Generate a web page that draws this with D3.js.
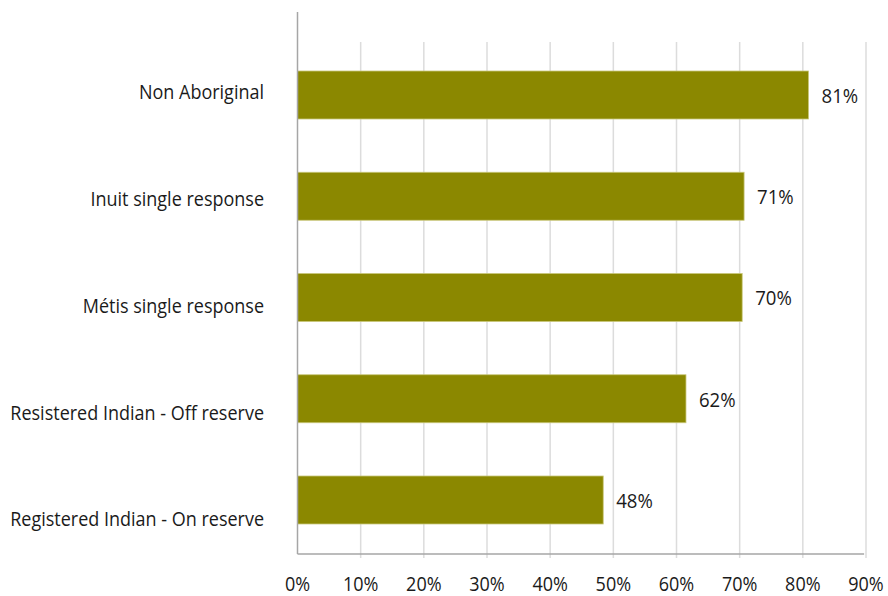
<!DOCTYPE html>
<html><head><meta charset="utf-8">
<script src="https://cdn.jsdelivr.net/npm/d3@7"></script>
<style>body{margin:0;background:#fff}svg{display:block}</style>
</head><body>
<script>
const categories = ["Non Aboriginal","Inuit single response","Métis single response","Resistered Indian - Off reserve","Registered Indian - On reserve"];
const values = [80.9, 70.7, 70.4, 61.5, 48.4];
const ticks = [0,10,20,30,40,50,60,70,80,90];

const W = 888, H = 596;
const svg = d3.select("body").append("svg").attr("width", W).attr("height", H);
const font = "'Open Sans', sans-serif";

const x = d3.scaleLinear().domain([0, 90]).range([297.5, 866]);
const y = d3.scalePoint().domain(categories).range([95, 500]);
const yLab = d3.scalePoint().domain(categories).range([94, 521]);
const barH = 48;

// gridlines
svg.append("g").selectAll("line").data(ticks.slice(1)).join("line")
  .attr("x1", d => x(d)).attr("x2", d => x(d))
  .attr("y1", 42).attr("y2", 558)
  .attr("stroke", "#dcdcdc").attr("stroke-width", 1.5);

// bars
svg.append("g").selectAll("rect").data(values).join("rect")
  .attr("x", x(0)).attr("y", (d,i) => y(categories[i]) - barH/2)
  .attr("width", d => x(d) - x(0)).attr("height", barH)
  .attr("fill", "#8b8800").attr("stroke", "#c9c77a").attr("stroke-width", 0.8);

// axes lines
svg.append("line").attr("x1", x(0)).attr("x2", x(0)).attr("y1", 12).attr("y2", 554)
  .attr("stroke", "#a6a6a6").attr("stroke-width", 1.5);
svg.append("line").attr("x1", x(0)).attr("x2", x(89.7)).attr("y1", 554).attr("y2", 554)
  .attr("stroke", "#a6a6a6").attr("stroke-width", 1.5);

// value labels
svg.append("g").selectAll("text").data(values).join("text")
  .attr("transform", (d,i) => `translate(${x(d) + 13},${y(categories[i]) + 2.5}) scale(0.93,1)`)
  .attr("dominant-baseline", "middle")
  .attr("font-family", font).attr("font-size", 20).attr("fill", "#1a1a1a")
  .text(d => Math.round(d) + "%");

// category labels
svg.append("g").selectAll("text").data(categories).join("text")
  .attr("transform", d => `translate(264,${yLab(d)}) scale(0.9,1)`)
  .attr("text-anchor", "end").attr("dominant-baseline", "middle")
  .attr("font-family", font).attr("font-size", 20).attr("fill", "#1a1a1a")
  .text(d => d);

// tick labels
svg.append("g").selectAll("text").data(ticks).join("text")
  .attr("transform", d => `translate(${x(d)},590.5) scale(0.9,1)`)
  .attr("text-anchor", "middle")
  .attr("font-family", font).attr("font-size", 20).attr("fill", "#1a1a1a")
  .text(d => d + "%");
</script>
</body></html>
